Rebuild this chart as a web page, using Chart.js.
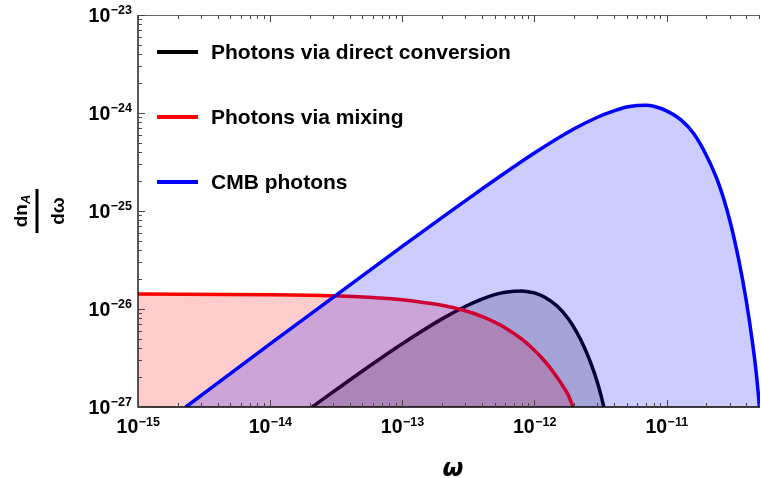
<!DOCTYPE html>
<html>
<head>
<meta charset="utf-8">
<script src="https://cdn.jsdelivr.net/npm/chart.js@4"></script>
<style>
body { margin: 0; background: #fff; }
</style>
</head>
<body>
<canvas id="myChart" width="761" height="478"></canvas>
<script>
// omega values and dn/domega
const cmbW = [2.3e-15, 1e-14, 1e-13, 3e-13, 1e-12, 2e-12, 3e-12, 4e-12, 5e-12, 6e-12, 7e-12, 8e-12, 1e-11, 1.3e-11, 1.6e-11, 2e-11, 2.5e-11, 3e-11, 3.5e-11, 4e-11, 4.5e-11, 4.8e-11, 5.05e-11]
const cmbN = [1.0e-27, 4.4e-27, 4.35e-26, 1.27e-25, 3.9e-25, 6.9e-25, 9.05e-25, 1.05e-24, 1.15e-24, 1.19e-24, 1.2e-24, 1.17e-24, 1.05e-24, 8.4e-25, 6.2e-25, 3.7e-25, 1.85e-25, 8.2e-26, 3.3e-26, 1.25e-26, 4.3e-27, 2.1e-27, 1.0e-27]

const mixW = [1e-15, 1e-14, 3e-14, 6e-14, 1e-13, 2e-13, 3e-13, 4e-13, 5e-13, 6e-13, 8e-13, 1e-12, 1.2e-12, 1.4e-12, 1.6e-12, 1.8e-12, 1.97e-12]
const mixN = [1.42e-26, 1.40e-26, 1.365e-26, 1.31e-26, 1.245e-26, 1.09e-26, 9.6e-27, 8.4e-27, 7.35e-27, 6.45e-27, 4.95e-27, 3.8e-27, 2.93e-27, 2.25e-27, 1.73e-27, 1.33e-27, 1.0e-27]

const dirW = [2.08e-14, 5e-14, 1e-13, 2e-13, 3e-13, 4e-13, 5e-13, 6e-13, 7e-13, 8e-13, 9e-13, 1e-12, 1.2e-12, 1.5e-12, 1.8e-12, 2.1e-12, 2.4e-12, 2.7e-12, 3.0e-12, 3.2e-12, 3.35e-12]
const dirN = [1.0e-27, 2.33e-27, 4.42e-27, 7.93e-27, 1.06e-26, 1.26e-26, 1.4e-26, 1.48e-26, 1.52e-26, 1.53e-26, 1.5e-26, 1.46e-26, 1.32e-26, 1.06e-26, 8.0e-27, 5.75e-27, 4.0e-27, 2.7e-27, 1.78e-27, 1.3e-27, 1.0e-27]

const xExp = [-15, -14, -13, -12, -11]
const yExp = [-27, -26, -25, -24, -23]
const legendLabels = ['Photons via direct conversion', 'Photons via mixing', 'CMB photons']
const legendColors = ['#000000', '#ff0000', '#0000ff']

function pts(w, n) {
    let out = []
    for (let i = 0; i < w.length; i++) {
        out.push({x: w[i], y: n[i]})
    }
    return out
}

function sup(s) {
    return s.replace('-', '\u2212')
}

const frame = {
    id: 'frame',
    afterDraw(chart) {
        const ctx = chart.ctx
        const a = chart.chartArea
        const xs = chart.scales.x
        const ys = chart.scales.y
        ctx.save()

        // frame
        ctx.strokeStyle = '#000'
        ctx.lineWidth = 1.3
        ctx.beginPath()
        ctx.moveTo(a.left, a.top)
        ctx.lineTo(a.left, a.bottom)
        ctx.lineTo(a.right, a.bottom)
        ctx.stroke()
        ctx.strokeStyle = '#666'
        ctx.lineWidth = 1
        ctx.beginPath()
        ctx.moveTo(a.left, a.top + 0.5)
        ctx.lineTo(a.right, a.top + 0.5)
        ctx.stroke()

        // ticks
        ctx.strokeStyle = '#444'
        ctx.lineWidth = 1
        for (let e = -15; e <= -11; e++) {
            for (let m = 1; m <= 9; m++) {
                let v = m * Math.pow(10, e)
                if (v > xs.max) continue
                let px = Math.round(xs.getPixelForValue(v)) + 0.5
                let len = m == 1 ? 7 : 4
                ctx.beginPath()
                ctx.moveTo(px, a.bottom)
                ctx.lineTo(px, a.bottom - len)
                ctx.moveTo(px, a.top)
                ctx.lineTo(px, a.top + len)
                ctx.stroke()
            }
        }
        for (let e = -27; e <= -23; e++) {
            for (let m = 1; m <= 9; m++) {
                let v = m * Math.pow(10, e)
                if (v > ys.max) continue
                let py = Math.round(ys.getPixelForValue(v)) + 0.5
                let len = m == 1 ? 7 : 4
                ctx.beginPath()
                ctx.moveTo(a.left, py)
                ctx.lineTo(a.left + len, py)
                ctx.stroke()
            }
        }

        // tick labels
        ctx.fillStyle = '#000'
        ctx.textBaseline = 'alphabetic'
        const baseFont = 'bold 19.5px "Liberation Sans", Arial, sans-serif'
        const expFont = 'bold 12.5px "Liberation Sans", Arial, sans-serif'
        xExp.forEach(e => {
            let px = xs.getPixelForValue(Math.pow(10, e))
            ctx.font = baseFont
            let w1 = ctx.measureText('10').width
            ctx.font = expFont
            let w2 = ctx.measureText(sup(String(e))).width
            let x0 = px - (w1 + w2) / 2
            ctx.font = baseFont
            ctx.textAlign = 'left'
            ctx.fillText('10', x0, 433)
            ctx.font = expFont
            ctx.fillText(sup(String(e)), x0 + w1 + 0.5, 426)
        })
        yExp.forEach(e => {
            let py = ys.getPixelForValue(Math.pow(10, e))
            ctx.font = expFont
            let w2 = ctx.measureText(sup(String(e))).width
            ctx.font = baseFont
            let w1 = ctx.measureText('10').width
            let x0 = 132 - w1 - w2 - 0.5
            ctx.textAlign = 'left'
            ctx.fillText('10', x0, py + 6.5)
            ctx.font = expFont
            ctx.fillText(sup(String(e)), x0 + w1 + 0.5, py - 1.5)
        })

        // axis titles
        ctx.font = 'oblique bold 24px "DejaVu Sans", sans-serif'
        ctx.textAlign = 'center'
        ctx.fillText('\u03c9', 453, 476)

        ctx.save()
        ctx.translate(37, 211)
        ctx.rotate(-Math.PI / 2)
        ctx.font = 'bold 19px "Liberation Sans", Arial, sans-serif'
        let wd = ctx.measureText('dn').width
        ctx.font = 'italic bold 13px "Liberation Sans", Arial, sans-serif'
        let wa = ctx.measureText('A').width
        let x0 = -(wd + wa) / 2
        ctx.textAlign = 'left'
        ctx.font = 'bold 19px "Liberation Sans", Arial, sans-serif'
        ctx.fillText('dn', x0, -10)
        ctx.font = 'italic bold 13px "Liberation Sans", Arial, sans-serif'
        ctx.fillText('A', x0 + wd, -7)
        ctx.font = 'bold 19px "Liberation Sans", Arial, sans-serif'
        ctx.textAlign = 'center'
        ctx.fillText('d\u03c9', 0, 27)
        ctx.fillRect(-22, -1.5, 44, 3)
        ctx.restore()

        // legend
        for (let i = 0; i < legendLabels.length; i++) {
            let y = 52 + i * 65
            ctx.strokeStyle = legendColors[i]
            ctx.lineWidth = 4
            ctx.beginPath()
            ctx.moveTo(157, y)
            ctx.lineTo(198, y)
            ctx.stroke()
            ctx.fillStyle = '#000'
            ctx.font = 'bold 21px "Liberation Sans", Arial, sans-serif'
            ctx.textAlign = 'left'
            ctx.textBaseline = 'middle'
            ctx.fillText(legendLabels[i], 211, y + 1)
        }
        ctx.restore()
    }
}

const ctx = document.getElementById('myChart')

new Chart(ctx, {
    type: 'line',
    data: {
        datasets: [
            {
                label: legendLabels[2],
                data: pts(cmbW, cmbN),
                borderColor: '#0000ff',
                backgroundColor: 'rgba(0, 0, 255, 0.2)',
                borderWidth: 3.5,
                fill: 'start'
            },
            {
                label: legendLabels[1],
                data: pts(mixW, mixN),
                borderColor: '#ff0000',
                backgroundColor: 'rgba(255, 0, 0, 0.2)',
                borderWidth: 3.5,
                fill: 'start'
            },
            {
                label: legendLabels[0],
                data: pts(dirW, dirN),
                borderColor: '#000000',
                backgroundColor: 'rgba(0, 0, 0, 0.2)',
                borderWidth: 3.5,
                fill: 'start'
            }
        ]
    },
    options: {
        responsive: false,
        animation: false,
        layout: {
            padding: {left: 138, top: 15, right: 1, bottom: 71}
        },
        elements: {
            point: {radius: 0},
            line: {cubicInterpolationMode: 'monotone'}
        },
        plugins: {
            legend: {display: false},
            tooltip: {enabled: false}
        },
        scales: {
            x: {
                type: 'logarithmic',
                display: false,
                min: 1e-15,
                max: 5.1e-11
            },
            y: {
                type: 'logarithmic',
                display: false,
                min: 1e-27,
                max: 1e-23
            }
        }
    },
    plugins: [frame]
});
</script>
</body>
</html>
